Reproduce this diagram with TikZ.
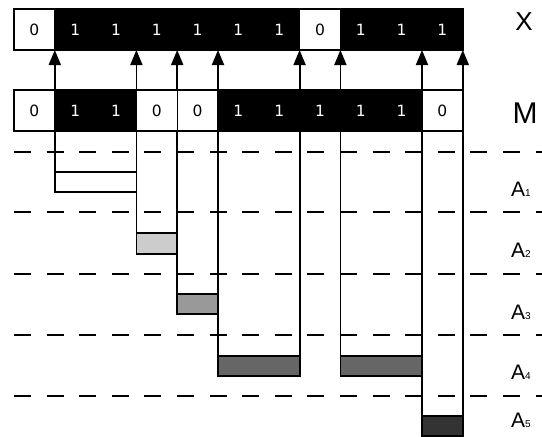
\documentclass[tikz,border=0pt]{standalone}
\usepackage{fontspec}
\setmainfont{Liberation Sans}
\newfontfamily\digitfont{DejaVu Sans}
\usetikzlibrary{arrows.meta}
\begin{document}
\begin{tikzpicture}[x=1pt,y=-1pt,
  cellw/.style={draw=black,line width=1.4pt,fill=white,minimum width=40.8pt,minimum height=41pt,
    inner sep=0pt,outer sep=0pt,font=\digitfont\fontsize{15.5}{15.5}\selectfont,text=black},
  cellb/.style={cellw,fill=black,text=white},
  conn/.style={line width=1.8pt,-{Triangle[width=12pt,length=15pt]}},
  colline/.style={line width=1.8pt},
  bar/.style={draw=black,line width=1.8pt},
  sep/.style={line width=2pt,dash pattern=on 17pt off 15.6pt},
  biglab/.style={font=\fontsize{26}{26}\selectfont,inner sep=0pt},
  alab/.style={font=\fontsize{21}{21}\selectfont,inner sep=0pt}]
\useasboundingbox (0,0) rectangle (542,437);
% separators
\foreach \yy in {151.7,212.3,274,335,396.3}
  \draw[sep] (14,\yy) -- (560,\yy);
% X row
\foreach \v [count=\i] in {0,1,1,1,1,1,1,0,1,1,1} {
  \pgfmathsetmacro\cx{14+(\i-0.5)*40.8}
  \ifnum\v=0 \node[cellw] (x\i) at (\cx,29.5) {0};
  \else \node[cellb] (x\i) at (\cx,29.5) {1}; \fi
}
% M row
\foreach \v [count=\i] in {0,1,1,0,0,1,1,1,1,1,0} {
  \pgfmathsetmacro\cx{14+(\i-0.5)*40.8}
  \ifnum\v=0 \node[cellw] (m\i) at (\cx,110.5) {0};
  \else \node[cellb] (m\i) at (\cx,110.5) {1}; \fi
}
% arrows
\foreach \k in {2,4,5,6,8,9,11}
  \draw[conn] (m\k.north west) -- (x\k.south west);
\draw[conn] (m11.north east) -- (x11.south east);
% bars
\draw[bar,fill=white] (m2.south west |- 0,172.3) rectangle (m4.south west |- 0,192.3);
\draw[bar,fill=black!20] (m4.south west |- 0,233.3) rectangle (m5.south west |- 0,253.7);
\draw[bar,fill=black!40] (m5.south west |- 0,294.3) rectangle (m6.south west |- 0,314.3);
\draw[bar,fill=black!60] (m6.south west |- 0,355.7) rectangle (m8.south west |- 0,376);
\draw[bar,fill=black!60] (m9.south west |- 0,355.7) rectangle (m11.south west |- 0,376);
\draw[bar,fill=black!80] (m11.south west |- 0,416) rectangle (m11.south east |- 0,436);
% column lines
\draw[colline] (m2.south west) -- (m2.south west |- 0,192.3);
\draw[colline] (m4.south west) -- (m4.south west |- 0,253.7);
\draw[colline] (m5.south west) -- (m5.south west |- 0,314.3);
\draw[colline] (m6.south west) -- (m6.south west |- 0,376);
\draw[colline] (m8.south west) -- (m8.south west |- 0,376);
\draw[colline] (m9.south west) -- (m9.south west |- 0,376);
\draw[colline] (m11.south west) -- (m11.south west |- 0,436);
\draw[colline] (m11.south east) -- (m11.south east |- 0,436);
% labels
\node[biglab] (lx) at (524,22) {X};
\node[font=\fontsize{30}{30}\selectfont,inner sep=0pt] (lm) at (525,113) {M};
\node[alab] (a1) at (521,189) {A{\fontsize{10}{10}\selectfont 1}};
\node[alab] (a2) at (521,250.5) {A{\fontsize{10}{10}\selectfont 2}};
\node[alab] (a3) at (521,312) {A{\fontsize{10}{10}\selectfont 3}};
\node[alab] (a4) at (521,372.5) {A{\fontsize{10}{10}\selectfont 4}};
\node[alab] (a5) at (521,420) {A{\fontsize{10}{10}\selectfont 5}};
\end{tikzpicture}
\end{document}
